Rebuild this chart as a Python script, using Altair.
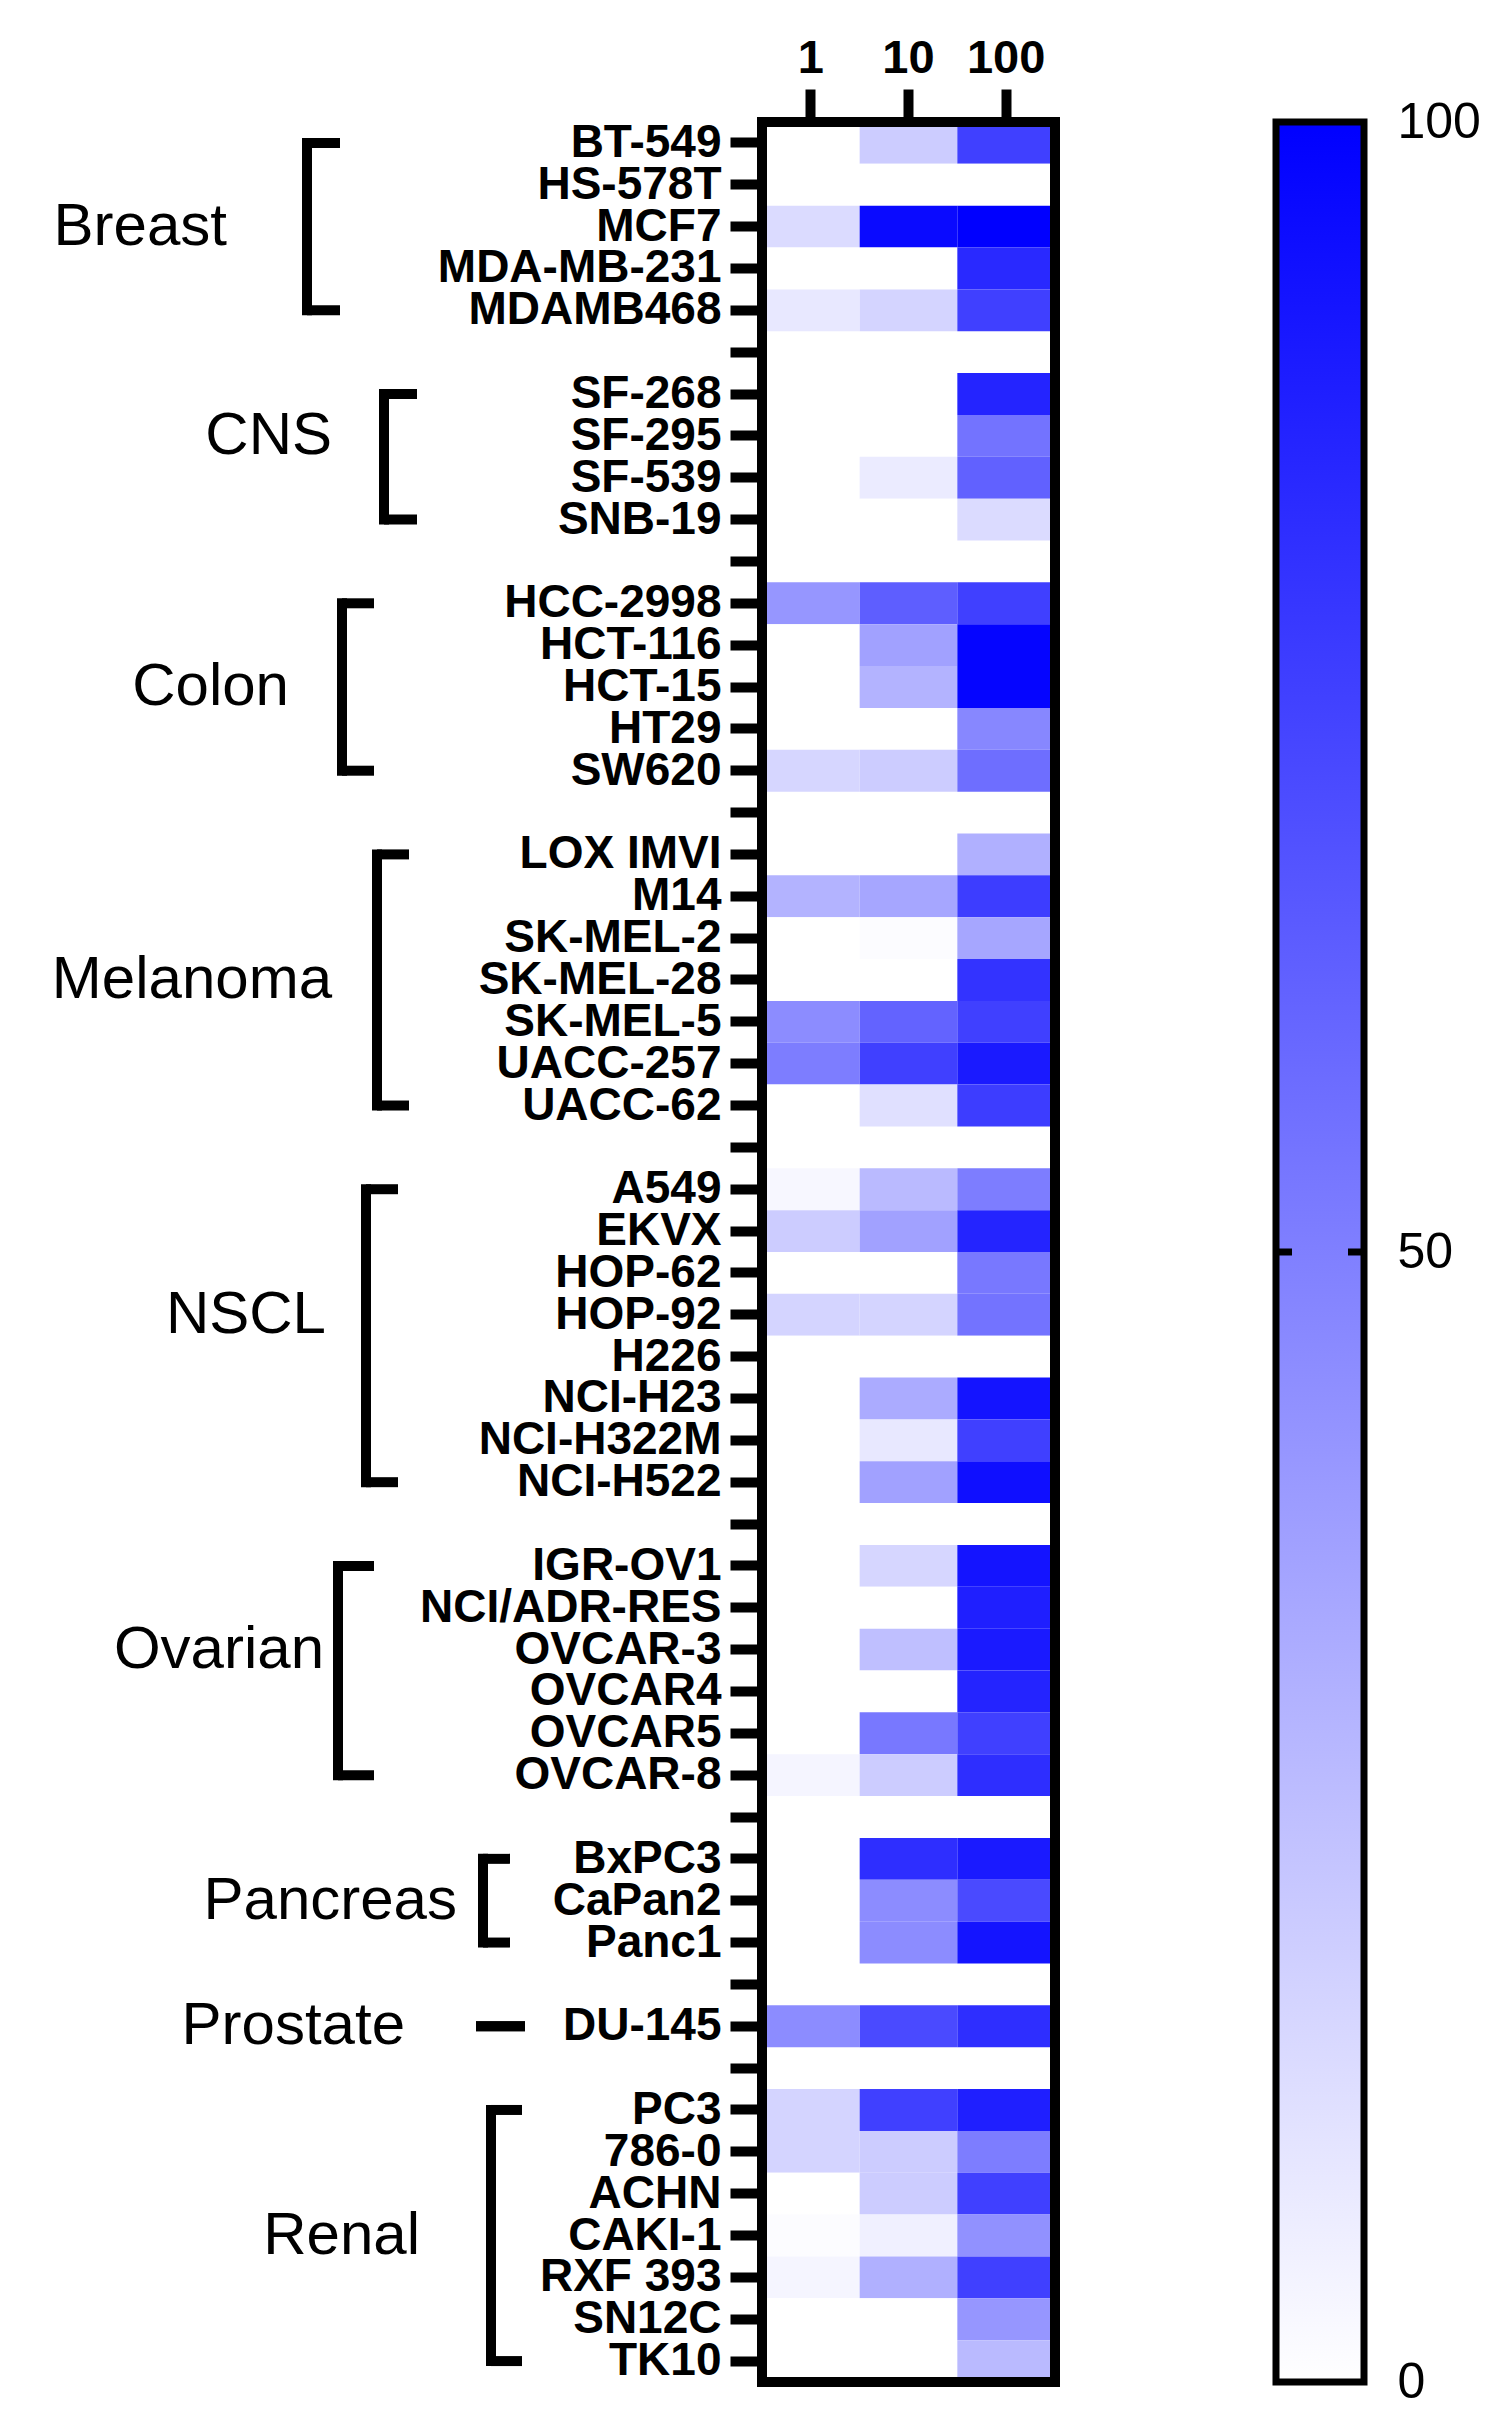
import altair as alt
import pandas as pd

FONT = "Liberation Sans"

# ---------------- data ----------------
tissues = ["Breast", "CNS", "Colon", "Melanoma", "NSCL", "Ovarian",
           "Pancreas", "Prostate", "Renal"]

breast = ["BT-549", "HS-578T", "MCF7", "MDA-MB-231", "MDAMB468"]
cns = ["SF-268", "SF-295", "SF-539", "SNB-19"]
colon = ["HCC-2998", "HCT-116", "HCT-15", "HT29", "SW620"]
melanoma = ["LOX IMVI", "M14", "SK-MEL-2", "SK-MEL-28", "SK-MEL-5",
            "UACC-257", "UACC-62"]
nscl = ["A549", "EKVX", "HOP-62", "HOP-92", "H226", "NCI-H23",
        "NCI-H322M", "NCI-H522"]
ovarian = ["IGR-OV1", "NCI/ADR-RES", "OVCAR-3", "OVCAR4", "OVCAR5",
           "OVCAR-8"]
pancreas = ["BxPC3", "CaPan2", "Panc1"]
prostate = ["DU-145"]
renal = ["PC3", "786-0", "ACHN", "CAKI-1", "RXF 393", "SN12C", "TK10"]

groups = [breast, cns, colon, melanoma, nscl, ovarian, pancreas,
          prostate, renal]

concentrations = ["1", "10", "100"]

# percent values per concentration, in cell line order
v1 = [0, 0, 14, 0, 9,
      0, 0, 0, 0,
      41, 0, 0, 0, 16,
      0, 30, 0, 0, 45, 51, 0,
      3, 20, 0, 17, 0, 0, 0, 0,
      0, 0, 0, 0, 0, 4,
      0, 0, 0,
      45,
      17, 17, 0, 1, 4, 0, 0]
v10 = [20, 0, 96, 0, 17,
       0, 0, 8, 0,
       63, 37, 30, 0, 20,
       0, 35, 1, 0, 61, 75, 12,
       27, 37, 0, 17, 0, 33, 9, 37,
       16, 0, 25, 0, 53, 20,
       82, 45, 45,
       71,
       75, 20, 20, 6, 31, 0, 0]
v100 = [75, 0, 100, 84, 75,
        86, 55, 62, 14,
        75, 98, 98, 47, 57,
        31, 76, 35, 80, 75, 90, 76,
        51, 86, 53, 55, 0, 92, 75, 94,
        92, 88, 90, 86, 75, 82,
        90, 71, 92,
        82,
        88, 51, 75, 43, 75, 41, 27]

# ---------------- layout (pixel offsets from the plot's left edge) -------
# (bracket line x, bracket serif end x, label right edge x)
bracket_layout = {
    "Breast": (-455, -422, -535),
    "CNS": (-378, -345, -430),
    "Colon": (-420, -388, -473),
    "Melanoma": (-385, -353, -430),
    "NSCL": (-396, -364, -436),
    "Ovarian": (-424, -388, -438),
    "Pancreas": (-279, -252, -305),
    "Prostate": (-286, -237, -357),
    "Renal": (-271, -240, -342),
}
label_anchor = {
    "Breast": "MCF7", "CNS": "SF-295", "Colon": "HCT-15",
    "Melanoma": "SK-MEL-28", "NSCL": "HOP-92", "Ovarian": "OVCAR-3",
    "Pancreas": "CaPan2", "Prostate": "DU-145", "Renal": "CAKI-1",
}

# ---------------- tables ----------------
cell_lines = [c for g in groups for c in g]
rows = []
for i, g in enumerate(groups):
    rows += g
    if i < len(groups) - 1:
        rows.append(f"_gap{i}")

records = []
for line, a, b, c in zip(cell_lines, v1, v10, v100):
    for conc, v in zip(concentrations, (a, b, c)):
        records.append({"row": line, "conc": conc, "value": v})
heat_df = pd.DataFrame(records)

br_df = pd.DataFrame({
    "group": tissues,
    "first": [g[0] for g in groups],
    "last": [g[-1] for g in groups],
    "anchor": [label_anchor[t] for t in tissues],
    "xl": [bracket_layout[t][0] for t in tissues],
    "xs": [bracket_layout[t][1] for t in tissues],
    "lx": [bracket_layout[t][2] for t in tissues],
})
vert_df = br_df[br_df["first"] != br_df["last"]]
serif_df = pd.concat([
    br_df[["first", "xl", "xs"]].rename(columns={"first": "row"}),
    br_df[["last", "xl", "xs"]].rename(columns={"last": "row"}),
], ignore_index=True)

W, H = 293, 2260
row_scale = alt.Scale(domain=rows, paddingInner=0, paddingOuter=0)
color_scale = alt.Scale(domain=[0, 100], range=["#ffffff", "#0000ff"],
                        interpolate="rgb")

heat = alt.Chart(heat_df).mark_rect().encode(
    x=alt.X("conc:N", sort=concentrations,
            scale=alt.Scale(domain=concentrations, paddingInner=0,
                            paddingOuter=0),
            axis=alt.Axis(orient="top", title=None, labelAngle=0,
                          domain=False, tickSize=33, tickWidth=10,
                          tickColor="black", labelFont=FONT,
                          labelFontSize=47, labelFontWeight="bold",
                          labelColor="black", labelPadding=7)),
    y=alt.Y("row:N", sort=rows, scale=row_scale,
            axis=alt.Axis(title=None, domain=False, tickSize=32,
                          tickWidth=10, tickColor="black", labelFont=FONT,
                          labelFontSize=46, labelFontWeight="bold",
                          labelColor="black", labelPadding=9,
                          labelLimit=1000, labelOverlap=False,
                          labelExpr="indexof(datum.value, '_gap') == 0 ? '' : datum.value")),
    color=alt.Color("value:Q", scale=color_scale, legend=None),
)

# frame drawn on top of the cells
box = alt.Chart(pd.DataFrame({"k": [0]})).mark_rect(
    fillOpacity=0, stroke="black", strokeWidth=10
).encode(x=alt.value(0), x2=alt.value(W), y=alt.value(0), y2=alt.value(H))

vert = alt.Chart(vert_df).mark_rule(color="black", strokeWidth=10,
                                    strokeCap="square").encode(
    x=alt.X("xl:Q", scale=None),
    y=alt.Y("first:N", scale=row_scale, bandPosition=0.5),
    y2=alt.Y2("last:N", bandPosition=0.5),
)

serif = alt.Chart(serif_df).mark_rule(color="black", strokeWidth=10).encode(
    x=alt.X("xl:Q", scale=None),
    x2=alt.X2("xs:Q"),
    y=alt.Y("row:N", scale=row_scale, bandPosition=0.5),
)

glabels = alt.Chart(br_df).mark_text(align="right", baseline="middle",
                                     font=FONT, fontSize=60,
                                     color="black").encode(
    x=alt.X("lx:Q", scale=None),
    y=alt.Y("anchor:N", scale=row_scale, bandPosition=0.5),
    text="group:N",
)

inner = alt.layer(heat, box, vert, serif, glabels)

# ---------------- colour bar ----------------
cb_df = pd.DataFrame({"lo": [0], "hi": [100]})
tick_df = pd.DataFrame({"lo": [50]})
cb_scale = alt.Scale(domain=[0, 100], nice=False, zero=True)
CB_L, CB_R = 514, 602

grad = alt.Chart(cb_df).mark_rect(
    color=alt.LinearGradient(
        gradient="linear",
        stops=[alt.GradientStop(color="#ffffff", offset=0),
               alt.GradientStop(color="#0000ff", offset=1)],
        x1=0, x2=0, y1=1, y2=0)
).encode(
    x=alt.value(CB_L), x2=alt.value(CB_R),
    y=alt.Y("lo:Q", scale=cb_scale,
            axis=alt.Axis(orient="right", offset=CB_R - W, values=[0, 50, 100],
                          ticks=False, domain=False, grid=False,
                          labelFlush=False, labelPadding=33,
                          labelFont=FONT, labelFontSize=50,
                          labelColor="black", labelBaseline="middle",
                          title=None)),
    y2="hi:Q",
)

frame = alt.Chart(cb_df).mark_rect(fillOpacity=0, stroke="black",
                                   strokeWidth=7).encode(
    x=alt.value(CB_L), x2=alt.value(CB_R),
    y=alt.Y("lo:Q", scale=cb_scale),
    y2="hi:Q",
)

tick_l = alt.Chart(tick_df).mark_rule(color="black", strokeWidth=7).encode(
    x=alt.value(CB_L), x2=alt.value(CB_L + 16),
    y=alt.Y("lo:Q", scale=cb_scale),
)
tick_r = alt.Chart(tick_df).mark_rule(color="black", strokeWidth=7).encode(
    x=alt.value(CB_R - 16), x2=alt.value(CB_R),
    y=alt.Y("lo:Q", scale=cb_scale),
)

cbar = alt.layer(grad, frame, tick_l, tick_r)

chart = alt.layer(inner, cbar).resolve_scale(y="independent").properties(
    width=W, height=H,
    autosize=alt.AutoSizeParams(type="none"),
    padding={"left": 754, "top": 114, "right": 440, "bottom": 30},
    background="white",
).configure_view(
    strokeWidth=0
).configure_axis(grid=False)

chart.save("out.html", embed_options={"renderer": "svg", "actions": False})
